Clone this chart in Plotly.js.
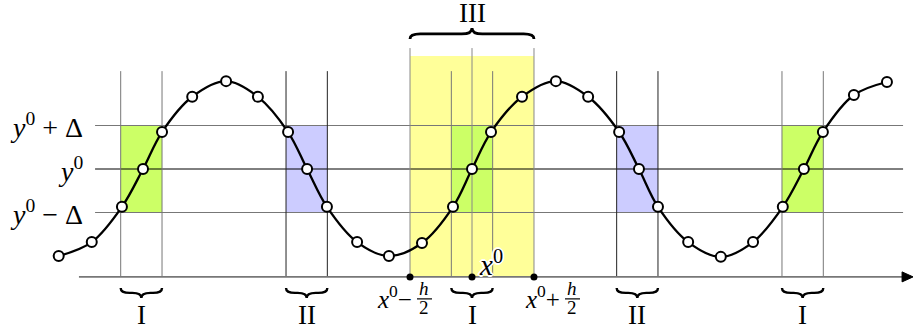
<!DOCTYPE html>
<html>
<head>
<meta charset="utf-8">
<script src="https://cdn.plot.ly/plotly-3.0.1.min.js"></script>
<style>html,body{margin:0;padding:0;background:#fff;}#chart{width:913px;height:336px;}</style>
</head>
<body>
<div id="chart"></div>
<script>
// ---- data (x in units of the zone width, y in units of Delta) ----
const curveX = [-10, -9.2, -8.47, -7.96, -7.5, -6.77, -5.95, -5.18, -4.45, -3.99, -3.51, -2.78, -2.01, -1.21, -0.46, 0, 0.46, 1.21, 2.03, 2.81, 3.56, 4.04, 4.5, 5.23, 6.02, 6.8, 7.52, 8.03, 8.49, 9.24, 10.04];
const curveY = [-2.0, -1.68, -0.87, 0, 0.85, 1.66, 2.02, 1.66, 0.85, 0, -0.87, -1.68, -2.0, -1.7, -0.87, 0, 0.85, 1.66, 2.02, 1.66, 0.85, 0, -0.87, -1.68, -2.02, -1.68, -0.87, 0, 0.85, 1.7, 2.0];
const zonesI = [[-8.5, -7.5], [-0.5, 0.5], [7.5, 8.5]];
const zonesII = [[-4.5, -3.5], [3.5, 4.5]];
const y0 = 0, delta = 1;
const x0 = 0, h = 3;
const levels = [y0 + delta, y0, y0 - delta];
const levelLabels = ['<i>y</i><sup>0</sup> + Δ', '<i>y</i><sup>0</sup>', '<i>y</i><sup>0</sup> − Δ'];
const axisY = -2.48, axisStart = -9.51, axisEnd = 10.43;
const lineLeft = -9.12, lineRight = 10.43;
const zoneTop = 2.25, yellowTop = 2.6, yellowLineTop = 2.78;
const zoneLabelsI = 'I', zoneLabelsII = 'II', zoneLabelIII = 'III';

const SERIF = 'Liberation Serif, DejaVu Serif, serif';
const shapes = [];
const annotations = [];

// yellow window
shapes.push({type: 'rect', layer: 'below', x0: x0 - h/2, x1: x0 + h/2, y0: axisY, y1: yellowTop,
  fillcolor: '#ffff99', line: {width: 0}});
// zone rects
zonesI.forEach(z => shapes.push({type: 'rect', layer: 'below', x0: z[0], x1: z[1], y0: y0 - delta, y1: y0 + delta,
  fillcolor: '#ccff66', line: {width: 0}}));
zonesII.forEach(z => shapes.push({type: 'rect', layer: 'below', x0: z[0], x1: z[1], y0: y0 - delta, y1: y0 + delta,
  fillcolor: '#ccccff', line: {width: 0}}));
// horizontal levels
levels.forEach((lv, i) => shapes.push({type: 'line', layer: 'below', x0: lineLeft, x1: lineRight, y0: lv, y1: lv,
  line: {color: i === 1 ? '#000' : '#777', width: 1}}));
// vertical zone lines
zonesI.forEach(z => z.forEach(xv => shapes.push({type: 'line', layer: 'below', x0: xv, x1: xv, y0: axisY, y1: zoneTop,
  line: {color: '#777', width: 1}})));
zonesII.forEach(z => z.forEach(xv => shapes.push({type: 'line', layer: 'below', x0: xv, x1: xv, y0: axisY, y1: zoneTop,
  line: {color: '#222', width: 1}})));
// yellow window edges and centre
[x0 - h/2, x0, x0 + h/2].forEach(xv => shapes.push({type: 'line', layer: 'below', x0: xv, x1: xv, y0: axisY, y1: yellowLineTop,
  line: {color: '#888', width: 1}}));
// x axis
shapes.push({type: 'line', layer: 'below', x0: axisStart, x1: axisEnd, y0: axisY, y1: axisY, line: {color: '#777', width: 1.6}});
shapes.push({type: 'path', xsizemode: 'pixel', ysizemode: 'pixel', xanchor: axisEnd, yanchor: axisY,
  path: 'M -1,5 L 10,0 L -1,-5 Z', fillcolor: '#000', line: {color: '#000', width: 1}});

// braces
function braceDown(a, b) {
  const m = (a + b) / 2, q = 0.22;
  return `M ${a},-11 Q ${a},-16 ${a+q},-16 L ${m-q},-16 Q ${m},-16 ${m},-21 Q ${m},-16 ${m+q},-16 L ${b-q},-16 Q ${b},-16 ${b},-11`;
}
function braceUp(a, b) {
  const m = (a + b) / 2, q = 0.25;
  return `M ${a},17 Q ${a},22 ${a+q},22 L ${m-q},22 Q ${m},22 ${m},28 Q ${m},22 ${m+q},22 L ${b-q},22 Q ${b},22 ${b},17`;
}
function zoneLabel(z, text) {
  shapes.push({type: 'path', ysizemode: 'pixel', yanchor: axisY, path: braceDown(z[0], z[1]),
    line: {color: '#000', width: 2.4}});
  annotations.push({x: (z[0] + z[1]) / 2, y: axisY, yshift: -38, text: text, showarrow: false,
    font: {family: SERIF, size: 27, color: '#000'}, xanchor: 'center', yanchor: 'middle'});
}
zonesI.forEach(z => zoneLabel(z, zoneLabelsI));
zonesII.forEach(z => zoneLabel(z, zoneLabelsII));
shapes.push({type: 'path', ysizemode: 'pixel', yanchor: yellowTop, path: braceUp(x0 - h/2, x0 + h/2),
  line: {color: '#000', width: 2.8}});
annotations.push({x: x0, y: yellowTop, yshift: 43, text: zoneLabelIII, showarrow: false,
  font: {family: SERIF, size: 27, color: '#000'}, xanchor: 'center', yanchor: 'middle'});

// level labels
levels.forEach((lv, i) => annotations.push({x: lineLeft, y: lv, xshift: -10, text: levelLabels[i], showarrow: false,
  font: {family: SERIF, size: 28, color: '#000'}, xanchor: 'right', yanchor: 'middle'}));

// x0 +- h/2 labels
[[-1, '−'], [1, '+']].forEach(([s, sign]) => {
  const xa = x0 + s * h / 2;
  const dx = s < 0 ? 4 : 28;
  annotations.push({x: xa, y: axisY, xshift: dx, yshift: -20, text: '<i>x</i><sup>0</sup>' + sign, showarrow: false,
    font: {family: SERIF, size: 25, color: '#000'}, xanchor: 'right', yanchor: 'middle'});
  annotations.push({x: xa, y: axisY, xshift: dx + 10, yshift: -12, text: '<i>h</i>', showarrow: false,
    font: {family: SERIF, size: 19, color: '#000'}, xanchor: 'center', yanchor: 'middle'});
  annotations.push({x: xa, y: axisY, xshift: dx + 10, yshift: -31, text: '2', showarrow: false,
    font: {family: SERIF, size: 19, color: '#000'}, xanchor: 'center', yanchor: 'middle'});
  shapes.push({type: 'line', xsizemode: 'pixel', ysizemode: 'pixel', xanchor: xa, yanchor: axisY,
    x0: dx + 3, x1: dx + 18, y0: -22, y1: -22, line: {color: '#000', width: 1.2}});
});
annotations.push({x: x0, y: axisY, xshift: 5, yshift: 14, text: '<i>x</i><sup>0</sup>', showarrow: false,
  font: {family: SERIF, size: 29, color: '#000',
    shadow: '1px 1px 0 #fff, -1px -1px 0 #fff, 1px -1px 0 #fff, -1px 1px 0 #fff, 2px 0 0 #fff, -2px 0 0 #fff, 0 2px 0 #fff, 0 -2px 0 #fff'},
  xanchor: 'left', yanchor: 'middle'});

const traces = [
  {x: curveX, y: curveY, mode: 'lines+markers', type: 'scatter', hoverinfo: 'skip',
   line: {color: '#000', width: 2.3, shape: 'spline', smoothing: 1},
   marker: {size: 10, color: '#fff', line: {color: '#000', width: 2}}},
  {x: [x0 - h/2, x0, x0 + h/2], y: [axisY, axisY, axisY], mode: 'markers', type: 'scatter', hoverinfo: 'skip',
   marker: {size: 7, color: '#000'}}
];

const layout = {
  width: 913, height: 336, margin: {l: 0, r: 0, t: 0, b: 0},
  paper_bgcolor: '#fff', plot_bgcolor: '#fff', showlegend: false,
  xaxis: {range: [-472 / 41.33, 441 / 41.33], visible: false, fixedrange: true},
  yaxis: {range: [(169 - 336) / 43.5, 169 / 43.5], visible: false, fixedrange: true},
  shapes: shapes, annotations: annotations
};
Plotly.newPlot('chart', traces, layout, {staticPlot: true, displayModeBar: false});
</script>
</body>
</html>
